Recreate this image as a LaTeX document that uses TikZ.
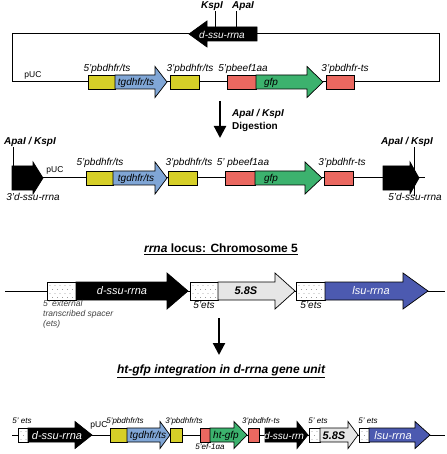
\documentclass[tikz,border=0pt]{standalone}
\usepackage{fontspec}
\setmainfont{Liberation Sans}
\usetikzlibrary{arrows.meta}

\definecolor{hyellow}{RGB}{214,207,40}
\definecolor{hblue}{RGB}{128,166,214}
\definecolor{hred}{RGB}{234,104,96}
\definecolor{hgreen}{RGB}{60,178,110}
\definecolor{hgrey}{RGB}{230,230,230}
\definecolor{hlsu}{RGB}{76,90,176}

% gene arrow: start, body end, tip, centre y, body half, head half, fill
\newcommand{\genearrow}[7]{%
	\filldraw[gene, fill=#7] (#1,#4-#5) -- (#2,#4-#5) -- (#2,#4-#6) -- (#3,#4)
		-- (#2,#4+#6) -- (#2,#4+#5) -- (#1,#4+#5) -- cycle;}
% plain box: left, right, centre y, half, fill
\newcommand{\genebox}[5]{%
	\filldraw[gene, fill=#5] (#1,#3-#4) rectangle (#2,#3+#4);}
% dotted ets box: left, right, centre y, half
\newcommand{\etsbox}[4]{%
	\filldraw[gene, fill=white] (#1,#3-#4) rectangle (#2,#3+#4);
	\begin{scope}
		\clip (#1+1.5,#3-#4+1.5) rectangle (#2-1.5,#3+#4-1.5);
		\foreach \i in {0,...,6}
			\foreach \j in {0,...,4}
				\fill[black!60] ({#1+3+\i*5+mod(\j,2)*2.5}, {#3-#4+3.5+\j*4}) circle (0.45pt);
	\end{scope}}

\begin{document}
\begin{tikzpicture}[x=1pt, y=-1pt,
	gene/.style={draw=black, line width=0.7pt},
	dna/.style={line width=1pt},
	cut/.style={line width=0.8pt},
	digest/.style={-{Triangle[length=12pt, width=12pt]}, line width=2.2pt},
	lab/.style={font=\fontsize{10}{12}\selectfont\itshape, inner sep=0pt},
	tiny/.style={font=\fontsize{8}{9}\selectfont\itshape, inner sep=0pt},
	site/.style={font=\fontsize{10}{12}\selectfont\bfseries\itshape, inner sep=0pt},
	inarrow/.style={font=\fontsize{10}{12}\selectfont\itshape, inner sep=0pt},
	big/.style={font=\fontsize{11}{13}\selectfont\itshape, inner sep=0pt},
	bigbold/.style={font=\fontsize{11}{13}\selectfont\bfseries\itshape, inner sep=0pt},
	title/.style={font=\fontsize{12}{14}\selectfont\bfseries, inner sep=0pt}]
	
	\useasboundingbox (0,0) rectangle (446,454);
	
	%plasmid
	\draw[dna] (257,34) -- (439,34) -- (439,82) -- (12,82) -- (12,34) -- (189,34);
	\genearrow{257}{207}{189}{34}{7}{13}{black}
	\genebox{88}{115}{82}{7}{hyellow}
	\genearrow{115}{155}{167}{82}{7}{15.5}{hblue}
	\genebox{170}{199}{82}{7}{hyellow}
	\genebox{227}{256}{82}{7}{hred}
	\genearrow{256}{307}{323}{82}{7}{15.5}{hgreen}
	\genebox{326}{354}{82}{7}{hred}
	
	%cut sites
	\node[site] (kspa) at (212,6) {KspI};
	\node[site] (apaa) at (243,6) {ApaI};
	\coordinate (kspcut) at (215,27);
	\coordinate (apacut) at (236,27);
	\draw[cut] (kspcut) -- (kspcut |- kspa.south);
	\draw[cut] (apacut) -- (apacut |- apaa.south);
	
	%labels
	\node[inarrow, white] (ssua) at (222,35) {d-ssu-rrna};
	\node[font=\fontsize{8.5}{9}\selectfont, inner sep=0pt] (puca) at (33,75) {pUC};
	\node[lab] (p5a) at (107,69) {5'pbdhfr/ts};
	\node[lab] (p3a) at (190,69) {3'pbdhfr/ts};
	\node[lab] (pefa) at (243,69) {5'pbeef1aa};
	\node[lab] (p3b) at (345,69) {3'pbdhfr-ts};
	\node[inarrow] (tga) at (136,83) {tgdhfr/ts};
	\node[inarrow] (gfpa) at (271,83) {gfp};
	
	%digestion
	\coordinate (dga) at (220,101);
	\coordinate (dgb) at (220,138);
	\draw[digest] (dga) -- (dgb);
	\node[site, anchor=west] (dgsite) at (232,114) {ApaI / KspI};
	\node[font=\fontsize{10}{12}\selectfont\bfseries, inner sep=0pt, anchor=west] (dgtxt) at (232,127) {Digestion};
	
	%linear fragment
	\draw[dna] (12,178) -- (425,178);
	\genearrow{12}{33}{43}{178}{12}{16}{black}
	\genebox{86}{113}{178}{7}{hyellow}
	\genearrow{113}{155}{167}{178}{7}{16}{hblue}
	\genebox{168}{197}{178}{7}{hyellow}
	\genebox{225}{255}{178}{7}{hred}
	\genearrow{255}{305}{322}{178}{7}{16}{hgreen}
	\genebox{324}{353}{178}{7}{hred}
	\genearrow{383}{410}{419}{178}{12}{16}{black}
	
	\node[site] (cutl) at (30,142) {ApaI / KspI};
	\node[site] (cutr) at (407,142) {ApaI / KspI};
	\coordinate (endl) at (13,166);
	\coordinate (endr) at (414,196);
	\draw[cut] (endl) -- (endl |- cutl.south);
	\draw[cut] (endr) -- (endr |- cutr.south);
	
	\node[font=\fontsize{8.5}{9}\selectfont, inner sep=0pt] (pucb) at (55,170) {pUC};
	\node[lab] (p5b) at (100,163) {5'pbdhfr/ts};
	\node[lab] (p3c) at (189,163) {3'pbdhfr/ts};
	\node[lab] (pefb) at (243,163) {5' pbeef1aa};
	\node[lab] (p3d) at (342,163) {3'pbdhfr-ts};
	\node[inarrow] (tgb) at (136,179) {tgdhfr/ts};
	\node[inarrow] (gfpb) at (271,179) {gfp};
	\node[lab] (ssu3) at (33,197) {3'd-ssu-rrna};
	\node[lab] (ssu5) at (415,197) {5'd-ssu-rrna};
	
	%rrna locus
	\node[title] (locus) at (221,249) {\underline{\textit{rrna} locus: Chromosome 5}};
	\draw[dna] (5,291) -- (445,291);
	\etsbox{47}{76}{291}{9}
	\genearrow{76}{167}{188}{291}{9}{18}{black}
	\etsbox{190}{218}{291}{9}
	\genearrow{218}{275}{295}{291}{9}{18}{hgrey}
	\etsbox{296}{325}{291}{9}
	\genearrow{325}{403}{428}{291}{9}{18}{hlsu}
	
	\node[big, white] (ssuc) at (122,291) {d-ssu-rrna};
	\node[bigbold] (s58a) at (246,291) {5.8S};
	\node[big, white] (lsua) at (371,291) {lsu-rrna};
	\node[lab] (etsa) at (204,305) {5'ets};
	\node[lab] (etsb) at (311,305) {5'ets};
	\node[font=\fontsize{8.5}{10}\selectfont\itshape, inner sep=0pt, anchor=north west, align=left, text=black!75] (ext) at (43,300) {5' external\\transcribed spacer\\(ets)};
	
	%integration
	\coordinate (ina) at (219,318);
	\coordinate (inb) at (219,355);
	\draw[digest] (ina) -- (inb);
	\node[title] (integ) at (221,371) {\underline{\itshape ht-gfp integration in d-rrna gene unit}};
	
	\draw[dna] (12,435) -- (445,435);
	\etsbox{18}{28}{435}{7}
	\genearrow{28}{75}{92}{435}{7}{13.5}{black}
	\genebox{110}{127}{435}{7}{hyellow}
	\genearrow{127}{160}{170}{435}{7}{13.5}{hblue}
	\genebox{170}{182}{435}{7}{hyellow}
	\genebox{200}{210}{435}{7}{hred}
	\genearrow{210}{234}{247}{435}{7}{13.5}{hgreen}
	\genebox{248}{259}{435}{7}{hred}
	\genearrow{265}{297}{308}{435}{7}{13.5}{black}
	\etsbox{309}{320}{435}{7}
	\genearrow{320}{348}{358}{435}{7}{13.5}{hgrey}
	\etsbox{359}{369}{435}{7}
	\genearrow{369}{415}{430}{435}{7}{13.5}{hlsu}
	
	\node[big, white] (ssud) at (57,436) {d-ssu-rrna};
	\node[font=\fontsize{8.5}{9}\selectfont, inner sep=0pt] (pucc) at (99,425) {pUC};
	\node[inarrow] (tgc) at (148,436) {tgdhfr/ts};
	\node[inarrow] (htg) at (226,436) {ht-gfp};
	\node[inarrow, white] (ssue) at (284,436) {d-ssu-rrn};
	\node[bigbold] (s58b) at (334,436) {5.8S};
	\node[big, white] (lsub) at (393,436) {lsu-rrna};
	\node[tiny] (etsc) at (22,421) {5' ets};
	\node[tiny] (p5c) at (125,421) {5'pbdhfr/ts};
	\node[tiny] (p3e) at (184,421) {3'pbdhfr/ts};
	\node[tiny] (p3f) at (261,421) {3'pbdhfr-ts};
	\node[tiny] (etsd) at (318,421) {5' ets};
	\node[tiny] (etse) at (368,421) {5' ets};
	\node[tiny] (efc) at (210,447) {5'ef-1αa};
	
\end{tikzpicture}
\end{document}
